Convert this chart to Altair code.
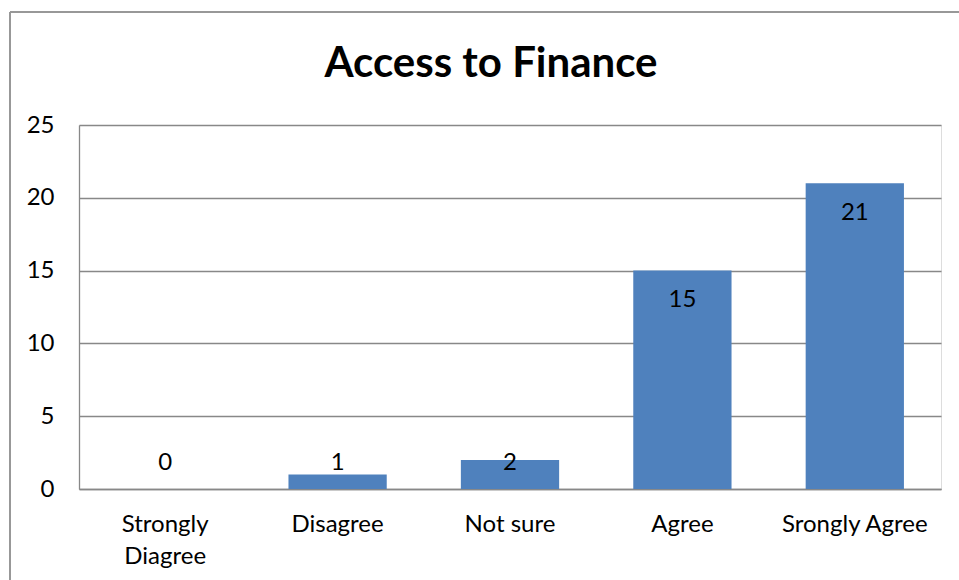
import altair as alt
import pandas as pd

categories = ["Strongly Diagree", "Disagree", "Not sure", "Agree", "Srongly Agree"]
values = [0, 1, 2, 15, 21]
y_ticks = [0, 5, 10, 15, 20, 25]
title_text = "Access to Finance"

df = pd.DataFrame({"cat": categories, "value": values})

FONT = "Lato"
FS = 24
label_expr = ("datum.value == 'Strongly Diagree' ? ['Strongly', 'Diagree'] : datum.value")

x_enc = alt.X("cat:N", sort=categories, title=None,
              scale=alt.Scale(paddingInner=0.43, paddingOuter=0.215),
              axis=alt.Axis(labelAngle=0, labelExpr=label_expr, labelFontSize=FS,
                            labelFont=FONT, labelColor="#000000", labelPadding=23,
                            labelLineHeight=32, ticks=False, domainColor="#888888",
                            domainWidth=1.3, grid=False, labelBaseline="top"))
y_scale = alt.Scale(domain=[0, 25])

bars = alt.Chart(df).mark_bar(color="#4F81BD").encode(
    x=x_enc,
    y=alt.Y("value:Q", scale=y_scale, title=None,
            axis=alt.Axis(values=y_ticks, labelFontSize=FS, labelFont=FONT,
                          labelColor="#000000", labelPadding=25, ticks=False,
                          domainColor="#888888", domainWidth=1.3,
                          gridColor="#888888", gridWidth=1.3)),
)

text = alt.Chart(df).transform_calculate(
    ly="max(datum.value - 2.05, 1.8)"
).mark_text(fontSize=FS, font=FONT, color="#000000", baseline="middle").encode(
    x=alt.X("cat:N", sort=categories),
    y=alt.Y("ly:Q", scale=y_scale),
    text=alt.Text("value:Q"),
)

title = alt.Chart(pd.DataFrame({"t": [title_text]})).mark_text(
    fontSize=42, font=FONT, fontWeight="bold", color="#000000",
    baseline="alphabetic", align="center"
).encode(x=alt.value(412), y=alt.value(-48), text="t:N")

border_left = alt.Chart(df).mark_rule(color="#999999", strokeWidth=1.5).encode(
    x=alt.value(-69), y=alt.value(-113), y2=alt.value(600))
border_top = alt.Chart(df).mark_rule(color="#999999", strokeWidth=1.5).encode(
    x=alt.value(-69), x2=alt.value(1000), y=alt.value(-113))

chart = alt.layer(bars, text, title, border_left, border_top).properties(
    width=862, height=364,
    autosize=alt.AutoSizeParams(type="none"),
    padding={"left": 79, "top": 125, "right": 18, "bottom": 91},
).configure_view(stroke=None).configure(background="#ffffff")

chart.save("out.html", embed_options={"renderer": "svg", "actions": False})
